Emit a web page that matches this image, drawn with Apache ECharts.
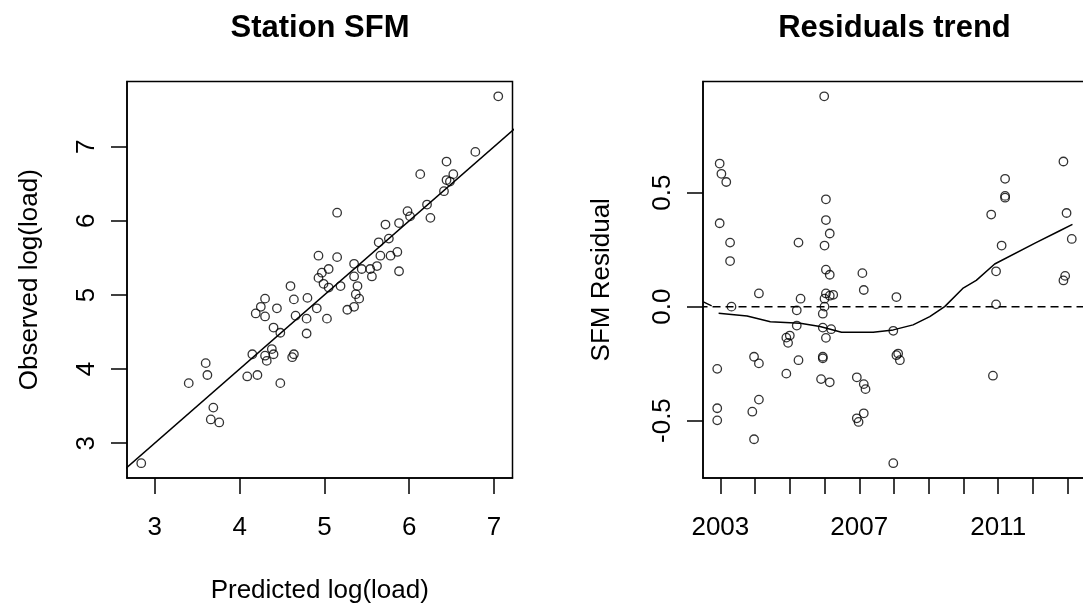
<!DOCTYPE html>
<html><head><meta charset="utf-8">
<script src="https://cdn.jsdelivr.net/npm/echarts@6.0.0/dist/echarts.min.js"></script>
<style>html,body{margin:0;padding:0;background:#fff}#c{width:1083px;height:609px}</style>
</head><body><div id="c"></div>
<script>
// ---- Left panel: Station SFM ----
const predicted = [2.84,3.40,3.60,3.62,3.69,3.66,3.76,4.09,4.21,4.15,4.30,4.32,4.38,4.40,4.48,4.62,4.64,4.40,4.48,4.19,4.30,4.25,4.30,4.44,4.60,4.64,4.66,4.79,4.80,4.79,4.91,5.03,4.99,5.05,5.19,5.27,5.35,5.37,5.39,5.41,7.05,6.78,6.44,6.52,6.44,6.48,6.41,6.13,6.21,6.25,5.98,6.01,5.15,5.88,5.72,5.76,5.64,5.66,5.78,5.86,5.88,5.62,5.54,5.56,5.44,5.35,5.35,5.15,4.93,5.05,4.97,4.93];
const observed  = [2.73,3.81,4.08,3.92,3.48,3.32,3.28,3.90,3.92,4.20,4.18,4.11,4.27,4.20,3.81,4.16,4.20,4.56,4.49,4.75,4.71,4.84,4.95,4.82,5.12,4.94,4.72,4.68,4.96,4.48,4.82,4.68,5.15,5.10,5.12,4.80,4.84,5.01,5.12,4.95,7.68,6.93,6.80,6.63,6.55,6.53,6.40,6.63,6.22,6.04,6.13,6.06,6.11,5.97,5.95,5.76,5.71,5.53,5.53,5.58,5.32,5.39,5.35,5.25,5.35,5.42,5.25,5.51,5.53,5.35,5.30,5.23];
const refLineX = [2.5, 7.5];
const refLineY = [2.5, 7.5];
const leftTicks = [3,4,5,6,7];

// ---- Right panel: Residuals trend ----
const resYear = [2005.99,2002.98,2003.03,2003.17,2002.98,2003.28,2003.28,2004.11,2005.25,2006.04,2006.04,2006.15,2006.00,2006.04,2006.15,2007.09,2007.13,2008.07,2005.31,2006.04,2006.15,2006.25,2006.00,2011.20,2011.20,2011.20,2010.80,2012.97,2012.88,2013.12,2011.10,2010.94,2012.93,2012.88,2010.94,2003.32,2006.00,2005.20,2005.95,2005.20,2005.95,2006.19,2006.04,2007.98,2004.90,2005.00,2004.95,2003.97,2004.11,2002.91,2005.25,2005.95,2005.95,2004.90,2005.90,2006.15,2006.93,2007.13,2007.18,2008.12,2008.07,2008.17,2010.85,2004.11,2003.92,2002.91,2002.91,2003.97,2006.93,2006.98,2007.13,2007.98];
const resValue = [0.923,0.628,0.583,0.547,0.366,0.281,0.200,0.058,0.281,0.471,0.380,0.321,0.268,0.162,0.140,0.147,0.073,0.042,0.035,0.058,0.048,0.052,0.035,0.561,0.486,0.478,0.404,0.411,0.637,0.297,0.268,0.155,0.135,0.115,0.010,0.000,0.000,-0.016,-0.031,-0.083,-0.092,-0.099,-0.137,-0.106,-0.136,-0.127,-0.159,-0.220,-0.249,-0.273,-0.235,-0.220,-0.227,-0.294,-0.318,-0.332,-0.310,-0.340,-0.362,-0.206,-0.213,-0.235,-0.303,-0.408,-0.461,-0.446,-0.499,-0.582,-0.490,-0.506,-0.468,-0.687];
const trendYear  = [2002.95,2003.77,2004.44,2005.30,2005.87,2006.49,2007.40,2007.98,2008.55,2009.03,2009.46,2009.98,2010.37,2010.90,2012.09,2012.76,2013.14];
const trendValue = [-0.029,-0.041,-0.066,-0.073,-0.087,-0.112,-0.112,-0.102,-0.080,-0.044,0.000,0.080,0.115,0.187,0.281,0.332,0.361];
const zeroLineYear = [2002.4, 2013.7];
const zeroLineValue = [0, 0];
const edgeYear = [2002.51, 2002.75];
const edgeValue = [0.021, 0.003];
const resTicks = [-0.5, 0, 0.5];
const yearTicks = [2003,2004,2005,2006,2007,2008,2009,2010,2011,2012,2013];
const yearLabels = [2003,2007,2011];

const FONT = 'Liberation Sans, Arial, Helvetica, sans-serif';
const BLACK = '#000';
const pairs = (a, b) => a.map((v, i) => [v, b[i]]);

const txt = {fontFamily: FONT, fontSize: 26, lineHeight: 26, color: BLACK};
const lineS = {color: BLACK, width: 1.5};

function xAxisCfg(grid, min, max, ticks, labels, name, fmt) {
  return {
    gridIndex: grid, type: 'value', min, max,
    axisLine: {show: true, onZero: false, lineStyle: lineS},
    axisTick: {show: true, inside: false, length: 16, customValues: ticks, lineStyle: lineS},
    axisLabel: Object.assign({customValues: labels, margin: 37, formatter: fmt, hideOverlap: false}, txt),
    splitLine: {show: false},
    name: name, nameLocation: 'middle', nameGap: 100, nameTextStyle: txt
  };
}
function yAxisCfg(grid, min, max, ticks, name, gap, fmt) {
  return {
    gridIndex: grid, type: 'value', min, max,
    axisLine: {show: true, onZero: false, lineStyle: lineS},
    axisTick: {show: true, inside: false, length: 16, customValues: ticks, lineStyle: lineS},
    axisLabel: Object.assign({customValues: ticks, margin: 27, rotate: 90, formatter: fmt, hideOverlap: false}, txt),
    splitLine: {show: false},
    name: name, nameLocation: 'middle', nameGap: gap, nameRotate: 90, nameTextStyle: txt
  };
}

const circle = {symbol: 'circle', symbolSize: 8.5,
  itemStyle: {color: 'rgba(0,0,0,0)', borderColor: BLACK, borderWidth: 1.3}};

const titleStyle = {fontFamily: FONT, fontWeight: 'bold', fontSize: 31, lineHeight: 31, color: BLACK};

const chart = echarts.init(document.getElementById('c'), null, {renderer: 'canvas'});
chart.setOption({
  animation: false,
  backgroundColor: '#fff',
  title: [
    {text: 'Station SFM', left: 320, top: 13, textAlign: 'center', padding: 0, textStyle: titleStyle},
    {text: 'Residuals trend', left: 894.5, top: 13, textAlign: 'center', padding: 0, textStyle: titleStyle}
  ],
  grid: [
    {left: 127, top: 81.5, width: 385.5, height: 396.5, show: true, borderColor: BLACK, borderWidth: 1.5, backgroundColor: 'transparent', containLabel: false, outerBoundsMode: 'none'},
    {left: 703, top: 81.5, width: 383, height: 396.5, show: true, borderColor: BLACK, borderWidth: 1.5, backgroundColor: 'transparent', containLabel: false, outerBoundsMode: 'none'}
  ],
  xAxis: [
    xAxisCfg(0, 2.672, 7.218, leftTicks, leftTicks, 'Predicted log(load)', v => String(v)),
    xAxisCfg(1, 2002.5, 2013.53, yearTicks, yearLabels, '', v => String(v))
  ],
  yAxis: [
    yAxisCfg(0, 2.53, 7.88, leftTicks, 'Observed log(load)', 84, v => String(v)),
    yAxisCfg(1, -0.752, 0.988, resTicks, 'SFM Residual', 88, v => v.toFixed(1))
  ],
  series: [
    Object.assign({type: 'scatter', xAxisIndex: 0, yAxisIndex: 0, data: pairs(predicted, observed)}, circle),
    {type: 'line', xAxisIndex: 0, yAxisIndex: 0, data: pairs(refLineX, refLineY), symbol: 'none', clip: true, lineStyle: {color: BLACK, width: 1.5}},
    Object.assign({type: 'scatter', xAxisIndex: 1, yAxisIndex: 1, data: pairs(resYear, resValue)}, circle),
    {type: 'line', xAxisIndex: 1, yAxisIndex: 1, data: pairs(trendYear, trendValue), symbol: 'none', clip: true, lineStyle: {color: BLACK, width: 1.5}},
    {type: 'line', xAxisIndex: 1, yAxisIndex: 1, data: pairs(zeroLineYear, zeroLineValue), symbol: 'none', clip: true, lineStyle: {color: BLACK, width: 1.5, type: [8, 5]}},
    {type: 'line', xAxisIndex: 1, yAxisIndex: 1, data: pairs(edgeYear, edgeValue), symbol: 'none', clip: true, lineStyle: {color: BLACK, width: 1.3}}
  ]
});
</script></body></html>
